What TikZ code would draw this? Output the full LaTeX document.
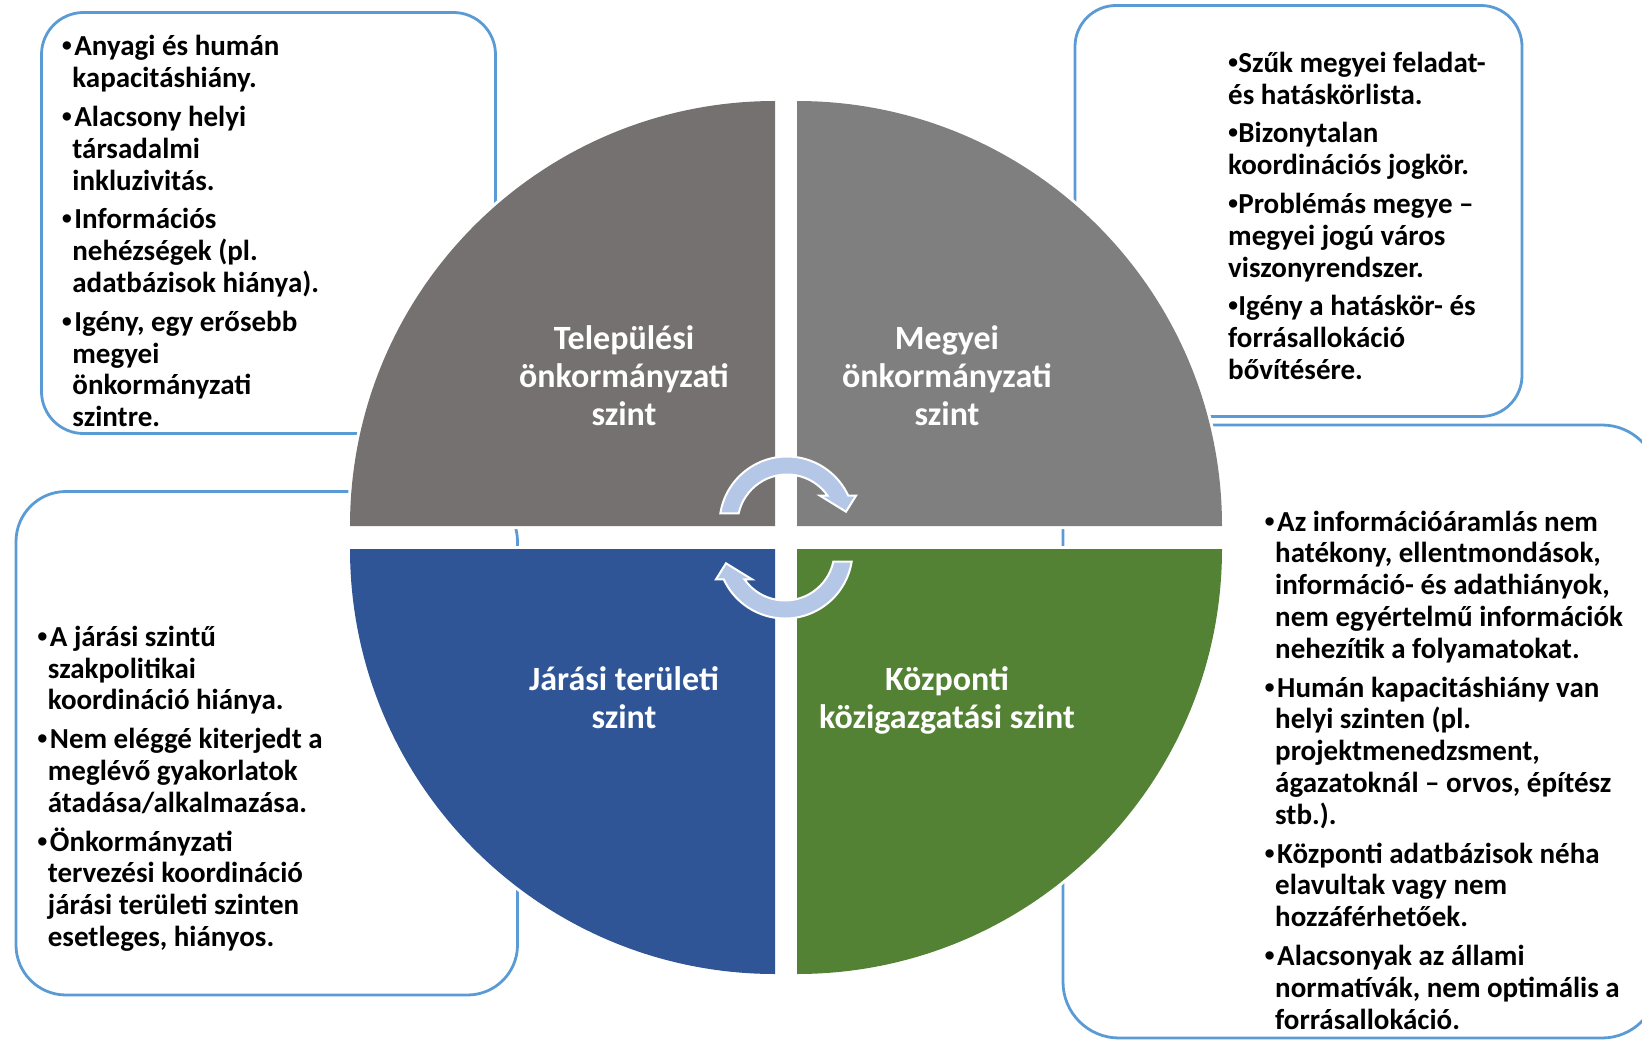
\documentclass[tikz,border=0pt]{standalone}
\usepackage{fontspec}
\setmainfont{Carlito}
\newfontfamily\bulfont{Liberation Sans}
\usetikzlibrary{calc}
\definecolor{boxblue}{HTML}{5B9BD5}
\definecolor{qgrayA}{HTML}{767171}
\definecolor{qgrayB}{HTML}{7F7F7F}
\definecolor{qblue}{HTML}{2F5597}
\definecolor{qgreen}{HTML}{548235}
\definecolor{arrowfill}{HTML}{B4C7E7}
\newcommand\mybul{\makebox[12.5pt][l]{{\bulfont•}}}
\newcommand\tbul{{\bulfont•}}
\newcommand\myind{\hspace*{10.5pt}}
\begin{document}
\begin{tikzpicture}[x=1pt,y=-1pt,
  boxline/.style={draw=boxblue, line width=2.8pt},
  quadhalo/.style={preaction={draw=white, line width=6pt}},
  cyclearrow/.style={fill=arrowfill, draw=white, line width=2pt, line join=miter},
  btext/.style={anchor=north west, inner sep=0pt, align=left, text=black,
    font=\fontsize{29}{31.8}\selectfont\bfseries},
  qlabel/.style={anchor=north, inner sep=0pt, align=center, text=white,
    font=\fontsize{34}{38}\selectfont\bfseries}]
\useasboundingbox (0,0) rectangle (1642,1041);
\clip (0,0) rectangle (1642,1041);

% outer boxes
\draw[boxline, rounded corners=42pt] (41.5,12.5) rectangle (495.5,433.5);
\draw[boxline, rounded corners=41pt] (1075,5.5) rectangle (1522,416.5);
\draw[boxline, rounded corners=50pt] (16,491.5) rectangle (517.5,995);
\draw[boxline, rounded corners=56pt] (1063,425) rectangle (1658,1038);

% quadrants
\path[quadhalo, fill=qgrayA] (775,526) -- ++(180:425) arc[start angle=180, end angle=270, radius=425] -- cycle;
\path[quadhalo, fill=qgrayB] (797,526) -- ++(270:425) arc[start angle=270, end angle=360, radius=425] -- cycle;
\path[quadhalo, fill=qgreen] (797,549) -- ++(0:425) arc[start angle=0, end angle=90, radius=425] -- cycle;
\path[quadhalo, fill=qblue] (775,549) -- ++(90:425) arc[start angle=90, end angle=180, radius=425] -- cycle;

% cycle arrows
\begin{scope}[shift={(786,537.5)}, yscale=-1]
  \path[cyclearrow] ($(1,13.5)+(170.9:67.5)$) arc[start angle=170.9, end angle=24.8, radius=67.5]
    -- (70,41.8) -- (60,25.8) -- (34,41.8) -- ($(1,13.5)+(34.9:49.5)$)
    arc[start angle=34.9, end angle=167.5, radius=49.5] -- cycle;
\end{scope}
\begin{scope}[shift={(786,537.5)}, yscale=-1, rotate=180]
  \path[cyclearrow] ($(1,13.5)+(170.9:67.5)$) arc[start angle=170.9, end angle=24.8, radius=67.5]
    -- (70,41.8) -- (60,25.8) -- (34,41.8) -- ($(1,13.5)+(34.9:49.5)$)
    arc[start angle=34.9, end angle=167.5, radius=49.5] -- cycle;
\end{scope}

% quadrant labels
\node[qlabel] (l1) at (624,322.4) {\strut Települési\\önkormányzati\\szint};
\node[qlabel] (l2) at (947,322.4) {\strut Megyei\\önkormányzati\\szint};
\node[qlabel] (l3) at (624,664) {\strut Járási területi\\szint};
\node[qlabel] (l4) at (947,664) {\strut Központi\\közigazgatási szint};

% box texts
\node[btext] (t1) at (61.7,33.5) {\strut\mybul Anyagi és humán\\
\myind kapacitáshiány.\\[7pt]
\mybul Alacsony helyi\\
\myind társadalmi\\
\myind inkluzivitás.\\[7pt]
\mybul Információs\\
\myind nehézségek (pl.\\
\myind adatbázisok hiánya).\\[7pt]
\mybul Igény, egy erősebb\\
\myind megyei\\
\myind önkormányzati\\
\myind szintre.};

\node[btext] (t2) at (1228,49.8) {\strut\tbul Szűk megyei feladat-\\
és hatáskörlista.\\[7pt]
\tbul Bizonytalan\\
koordinációs jogkör.\\[7pt]
\tbul Problémás megye –\\
megyei jogú város\\
viszonyrendszer.\\[7pt]
\tbul Igény a hatáskör- és\\
forrásallokáció\\
bővítésére.};

\node[btext] (t3) at (37.2,623.8) {\strut\mybul A járási szintű\\
\myind szakpolitikai\\
\myind koordináció hiánya.\\[7pt]
\mybul Nem eléggé kiterjedt a\\
\myind meglévő gyakorlatok\\
\myind átadása/alkalmazása.\\[7pt]
\mybul Önkormányzati\\
\myind tervezési koordináció\\
\myind járási területi szinten\\
\myind esetleges, hiányos.};

\node[btext] (t4) at (1264.5,508.6) {\strut\mybul Az információáramlás nem\\
\myind hatékony, ellentmondások,\\
\myind információ- és adathiányok,\\
\myind nem egyértelmű információk\\
\myind nehezítik a folyamatokat.\\[7pt]
\mybul Humán kapacitáshiány van\\
\myind helyi szinten (pl.\\
\myind projektmenedzsment,\\
\myind ágazatoknál – orvos, építész\\
\myind stb.).\\[7pt]
\mybul Központi adatbázisok néha\\
\myind elavultak vagy nem\\
\myind hozzáférhetőek.\\[7pt]
\mybul Alacsonyak az állami\\
\myind normatívák, nem optimális a\\
\myind forrásallokáció.};
\end{tikzpicture}
\end{document}
